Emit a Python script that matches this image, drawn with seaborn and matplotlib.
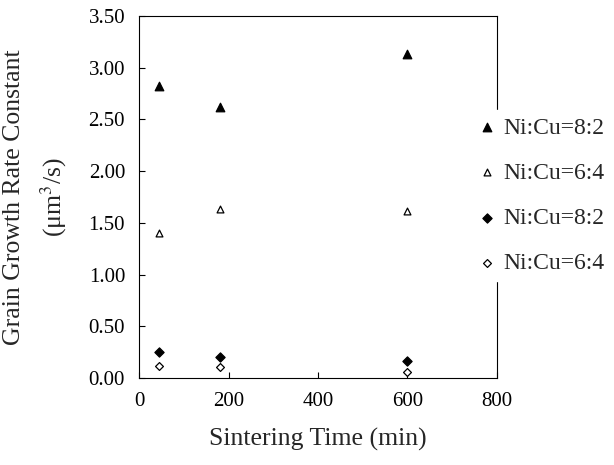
import matplotlib
matplotlib.use("Agg")
import matplotlib.pyplot as plt
import seaborn as sns
import pandas as pd

# data
time_min = [45, 180, 600]
labels = ["Ni:Cu=8:2", "Ni:Cu=6:4", "Ni:Cu=8:2", "Ni:Cu=6:4"]
tri_82 = [2.82, 2.62, 3.13]
tri_64 = [1.40, 1.63, 1.61]
dia_82 = [0.25, 0.20, 0.16]
dia_64 = [0.12, 0.11, 0.06]
x_ticks = [0, 200, 400, 600, 800]
y_ticks = [0.0, 0.5, 1.0, 1.5, 2.0, 2.5, 3.0, 3.5]

sns.set_theme(style="ticks")
plt.rcParams["font.family"] = ["Liberation Serif", "DejaVu Serif"]
plt.rcParams["mathtext.fontset"] = "stix"

fig = plt.figure(figsize=(6.14, 4.65), dpi=100)
ax = fig.add_axes([0.2264, 0.1871, 0.583, 0.7785])

series = [tri_82, tri_64, dia_82, dia_64]
styles = [
    dict(marker="^", s=38, color="black", edgecolor="black"),
    dict(marker="^", s=24, color="white", edgecolor="black"),
    dict(marker="D", s=22, color="black", edgecolor="black"),
    dict(marker="D", s=16, color="white", edgecolor="black"),
]
for i, vals in enumerate(series):
    df = pd.DataFrame({"t": time_min, "k": vals})
    sns.scatterplot(data=df, x="t", y="k", ax=ax, label=labels[i], linewidth=0.9, zorder=3, **styles[i])

ax.set_xlim(0, 800)
ax.set_ylim(0, 3.5)
ax.set_xticks(x_ticks)
ax.set_yticks(y_ticks)
ax.set_yticklabels([f"{v:.2f}" for v in y_ticks])
ax.tick_params(direction="in", length=4, width=0.8, labelsize=15, pad=10, colors="black")
for sp in ax.spines.values():
    sp.set_linewidth(0.8)
    sp.set_color("black")

ax.set_xlabel("Sintering Time (min)", fontsize=18.5, labelpad=12)
ax.set_ylabel("Grain Growth Rate Constant\n(μm$^3$/s)", fontsize=18.5, labelpad=14, linespacing=1.6)

# legend sits over the right spine, white box hides the upper part of it
handles, _ = ax.get_legend_handles_labels()
ax.get_legend().remove()
leg = fig.legend(handles, labels, loc="upper left", bbox_to_anchor=(0.739, 0.789),
                 frameon=True, fontsize=17, labelspacing=1.0, handletextpad=0.1,
                 handlelength=1.2, borderpad=0.3)
leg.get_frame().set_facecolor("white")
leg.get_frame().set_edgecolor("white")
leg.get_frame().set_alpha(1)

fig.savefig("out.png", dpi=100)
